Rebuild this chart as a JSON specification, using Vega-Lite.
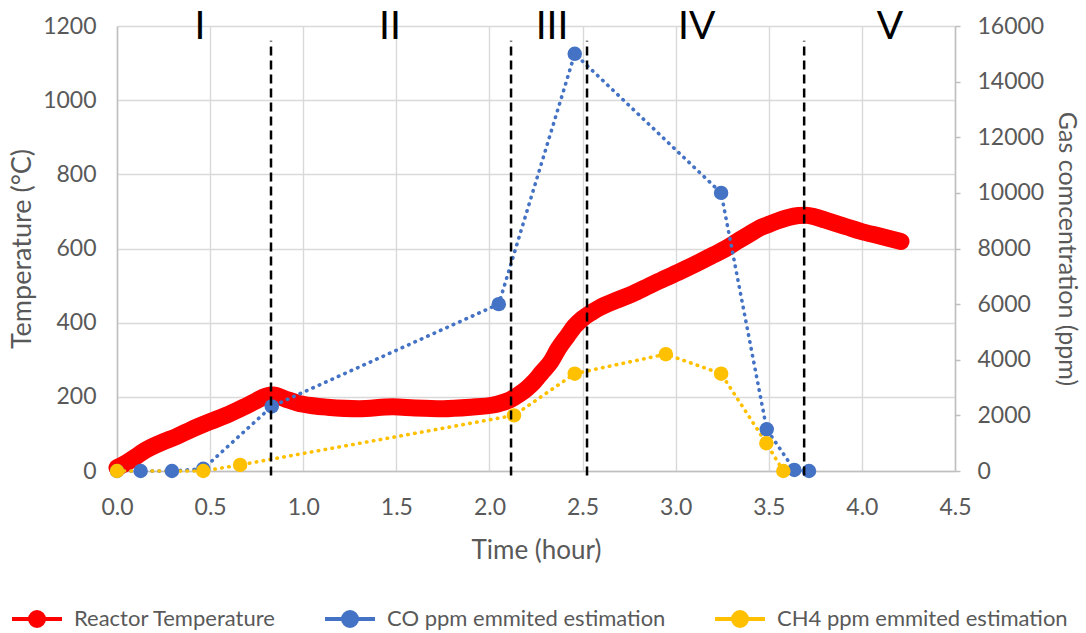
{
  "$schema": "https://vega.github.io/schema/vega-lite/v6.json",
  "width": 838,
  "height": 445,
  "autosize": {"type": "none"},
  "padding": {"left": 117, "top": 26, "right": 131, "bottom": 162},
  "config": {
    "view": {"stroke": null},
    "font": "Lato",
    "axis": {
      "labelFont": "Lato",
      "titleFont": "Lato",
      "labelColor": "#595959",
      "titleColor": "#595959",
      "labelFontSize": 23,
      "titleFontSize": 26,
      "titleFontWeight": "normal",
      "labelFlush": false,
      "labelOverlap": false,
      "gridColor": "#D9D9D9",
      "gridWidth": 1.4,
      "domainColor": "#BFBFBF",
      "domainWidth": 1.5,
      "tickColor": "#BFBFBF",
      "tickWidth": 1.5
    },
    "legend": {
      "labelFont": "Lato",
      "labelFontSize": 22,
      "labelColor": "#595959",
      "labelLimit": 400
    }
  },
  "datasets": {
    "temperature": [
      {"hour": 0.00, "temperature": 9, "series": "Reactor Temperature"},
      {"hour": 0.05, "temperature": 22, "series": "Reactor Temperature"},
      {"hour": 0.10, "temperature": 38, "series": "Reactor Temperature"},
      {"hour": 0.14, "temperature": 52, "series": "Reactor Temperature"},
      {"hour": 0.20, "temperature": 68, "series": "Reactor Temperature"},
      {"hour": 0.25, "temperature": 79, "series": "Reactor Temperature"},
      {"hour": 0.32, "temperature": 93, "series": "Reactor Temperature"},
      {"hour": 0.40, "temperature": 112, "series": "Reactor Temperature"},
      {"hour": 0.50, "temperature": 133, "series": "Reactor Temperature"},
      {"hour": 0.60, "temperature": 153, "series": "Reactor Temperature"},
      {"hour": 0.68, "temperature": 172, "series": "Reactor Temperature"},
      {"hour": 0.75, "temperature": 190, "series": "Reactor Temperature"},
      {"hour": 0.80, "temperature": 202, "series": "Reactor Temperature"},
      {"hour": 0.84, "temperature": 205, "series": "Reactor Temperature"},
      {"hour": 0.90, "temperature": 195, "series": "Reactor Temperature"},
      {"hour": 0.97, "temperature": 183, "series": "Reactor Temperature"},
      {"hour": 1.05, "temperature": 176, "series": "Reactor Temperature"},
      {"hour": 1.13, "temperature": 172, "series": "Reactor Temperature"},
      {"hour": 1.30, "temperature": 168, "series": "Reactor Temperature"},
      {"hour": 1.48, "temperature": 173, "series": "Reactor Temperature"},
      {"hour": 1.60, "temperature": 170, "series": "Reactor Temperature"},
      {"hour": 1.75, "temperature": 168, "series": "Reactor Temperature"},
      {"hour": 1.90, "temperature": 172, "series": "Reactor Temperature"},
      {"hour": 2.02, "temperature": 178, "series": "Reactor Temperature"},
      {"hour": 2.06, "temperature": 183, "series": "Reactor Temperature"},
      {"hour": 2.11, "temperature": 192, "series": "Reactor Temperature"},
      {"hour": 2.16, "temperature": 207, "series": "Reactor Temperature"},
      {"hour": 2.20, "temperature": 222, "series": "Reactor Temperature"},
      {"hour": 2.24, "temperature": 241, "series": "Reactor Temperature"},
      {"hour": 2.28, "temperature": 265, "series": "Reactor Temperature"},
      {"hour": 2.33, "temperature": 295, "series": "Reactor Temperature"},
      {"hour": 2.37, "temperature": 330, "series": "Reactor Temperature"},
      {"hour": 2.42, "temperature": 365, "series": "Reactor Temperature"},
      {"hour": 2.46, "temperature": 392, "series": "Reactor Temperature"},
      {"hour": 2.50, "temperature": 411, "series": "Reactor Temperature"},
      {"hour": 2.55, "temperature": 428, "series": "Reactor Temperature"},
      {"hour": 2.59, "temperature": 440, "series": "Reactor Temperature"},
      {"hour": 2.68, "temperature": 460, "series": "Reactor Temperature"},
      {"hour": 2.77, "temperature": 478, "series": "Reactor Temperature"},
      {"hour": 2.86, "temperature": 500, "series": "Reactor Temperature"},
      {"hour": 2.95, "temperature": 521, "series": "Reactor Temperature"},
      {"hour": 3.04, "temperature": 542, "series": "Reactor Temperature"},
      {"hour": 3.13, "temperature": 564, "series": "Reactor Temperature"},
      {"hour": 3.20, "temperature": 582, "series": "Reactor Temperature"},
      {"hour": 3.27, "temperature": 600, "series": "Reactor Temperature"},
      {"hour": 3.34, "temperature": 622, "series": "Reactor Temperature"},
      {"hour": 3.40, "temperature": 640, "series": "Reactor Temperature"},
      {"hour": 3.45, "temperature": 655, "series": "Reactor Temperature"},
      {"hour": 3.49, "temperature": 663, "series": "Reactor Temperature"},
      {"hour": 3.55, "temperature": 675, "series": "Reactor Temperature"},
      {"hour": 3.60, "temperature": 683, "series": "Reactor Temperature"},
      {"hour": 3.66, "temperature": 689, "series": "Reactor Temperature"},
      {"hour": 3.70, "temperature": 690, "series": "Reactor Temperature"},
      {"hour": 3.75, "temperature": 685, "series": "Reactor Temperature"},
      {"hour": 3.80, "temperature": 677, "series": "Reactor Temperature"},
      {"hour": 3.85, "temperature": 669, "series": "Reactor Temperature"},
      {"hour": 3.92, "temperature": 658, "series": "Reactor Temperature"},
      {"hour": 3.99, "temperature": 647, "series": "Reactor Temperature"},
      {"hour": 4.10, "temperature": 633, "series": "Reactor Temperature"},
      {"hour": 4.21, "temperature": 619, "series": "Reactor Temperature"}
    ],
    "gas": [
      {"hour": 0.000, "ppm": 0, "series": "CO ppm emmited estimation"},
      {"hour": 0.127, "ppm": 0, "series": "CO ppm emmited estimation"},
      {"hour": 0.295, "ppm": 0, "series": "CO ppm emmited estimation"},
      {"hour": 0.463, "ppm": 80, "series": "CO ppm emmited estimation"},
      {"hour": 0.831, "ppm": 2320, "series": "CO ppm emmited estimation"},
      {"hour": 2.050, "ppm": 6000, "series": "CO ppm emmited estimation"},
      {"hour": 2.458, "ppm": 15000, "series": "CO ppm emmited estimation"},
      {"hour": 3.244, "ppm": 10000, "series": "CO ppm emmited estimation"},
      {"hour": 3.489, "ppm": 1500, "series": "CO ppm emmited estimation"},
      {"hour": 3.637, "ppm": 40, "series": "CO ppm emmited estimation"},
      {"hour": 3.716, "ppm": 0, "series": "CO ppm emmited estimation"},
      {"hour": 0.000, "ppm": 0, "series": "CH4 ppm emmited estimation"},
      {"hour": 0.463, "ppm": 0, "series": "CH4 ppm emmited estimation"},
      {"hour": 0.661, "ppm": 220, "series": "CH4 ppm emmited estimation"},
      {"hour": 2.132, "ppm": 2000, "series": "CH4 ppm emmited estimation"},
      {"hour": 2.458, "ppm": 3500, "series": "CH4 ppm emmited estimation"},
      {"hour": 2.947, "ppm": 4200, "series": "CH4 ppm emmited estimation"},
      {"hour": 3.244, "ppm": 3500, "series": "CH4 ppm emmited estimation"},
      {"hour": 3.487, "ppm": 1000, "series": "CH4 ppm emmited estimation"},
      {"hour": 3.578, "ppm": 0, "series": "CH4 ppm emmited estimation"}
    ],
    "boundaries": [
      {"hour": 0.827},
      {"hour": 2.116},
      {"hour": 2.524},
      {"hour": 3.690}
    ],
    "phases": [
      {"hour": 0.446, "phase": "I"},
      {"hour": 1.466, "phase": "II"},
      {"hour": 2.336, "phase": "III"},
      {"hour": 3.113, "phase": "IV"},
      {"hour": 4.151, "phase": "V"}
    ]
  },
  "layer": [
    {
      "data": {"name": "temperature"},
      "mark": {"type": "line", "strokeWidth": 17, "strokeCap": "round", "strokeJoin": "round", "interpolate": "monotone"},
      "encoding": {
        "x": {
          "field": "hour", "type": "quantitative",
          "scale": {"domain": [0, 4.5], "nice": false, "zero": false},
          "axis": {"title": "Time (hour)", "values": [0, 0.5, 1, 1.5, 2, 2.5, 3, 3.5, 4, 4.5], "format": ".1f", "ticks": false, "grid": true, "labelPadding": 25, "titlePadding": 18}
        },
        "y": {
          "field": "temperature", "type": "quantitative",
          "scale": {"domain": [0, 1200], "nice": false},
          "axis": {"orient": "left", "title": "Temperature (\u00b0C)", "titleFontSize": 27, "values": [0, 200, 400, 600, 800, 1000, 1200], "format": "d", "ticks": false, "grid": true, "labelPadding": 21, "titlePadding": 6}
        },
        "color": {
          "field": "series", "type": "nominal",
          "scale": {
            "domain": ["Reactor Temperature", "CO ppm emmited estimation", "CH4 ppm emmited estimation"],
            "range": ["#FF0000", "#4472C4", "#FFC000"]
          },
          "legend": {
            "title": null,
            "orient": "none",
            "direction": "horizontal",
            "legendX": -107,
            "legendY": 566,
            "symbolType": "M-1,0H1M-0.28,0A0.28,0.28 0 1,0 0.28,0A0.28,0.28 0 1,0 -0.28,0Z",
            "symbolSize": 2500,
            "symbolStrokeWidth": 4,
            "labelOffset": 10,
            "columnPadding": 41,
            "encode": {
              "symbols": {
                "update": {
                  "stroke": {"scale": "color", "field": "value"},
                  "fill": {"scale": "color", "field": "value"},
                  "strokeWidth": {"value": 4},
                  "opacity": {"value": 1}
                }
              }
            }
          }
        }
      }
    },
    {
      "data": {"name": "gas"},
      "encoding": {
        "x": {"field": "hour", "type": "quantitative"},
        "y": {
          "field": "ppm", "type": "quantitative",
          "scale": {"domain": [0, 16000], "nice": false},
          "axis": {"orient": "right", "title": "Gas comcentration (ppm)", "titleFontSize": 25, "values": [0, 2000, 4000, 6000, 8000, 10000, 12000, 14000, 16000], "format": "d", "grid": false, "ticks": true, "tickSize": 5, "labelPadding": 17, "titlePadding": 10}
        },
        "color": {"field": "series", "type": "nominal"}
      },
      "layer": [
        {"mark": {"type": "line", "strokeWidth": 3.6, "strokeDash": [0.5, 6.5], "strokeCap": "round"}},
        {"mark": {"type": "point", "filled": true, "size": 210, "opacity": 1}}
      ]
    },
    {
      "layer": [
        {
          "data": {"name": "boundaries"},
          "mark": {"type": "rule", "strokeDash": [9, 5], "strokeWidth": 2.5, "color": "#000000"},
          "encoding": {
            "x": {"field": "hour", "type": "quantitative"},
            "y": {"datum": -12, "scale": {"domain": [0, 1200], "nice": false}, "axis": null},
            "y2": {"datum": 1160}
          }
        },
        {
          "data": {"name": "phases"},
          "mark": {"type": "text", "font": "Lato", "fontSize": 39, "color": "#000000", "align": "center", "baseline": "alphabetic"},
          "encoding": {
            "x": {"field": "hour", "type": "quantitative"},
            "y": {"datum": 1165},
            "text": {"field": "phase"}
          }
        }
      ]
    }
  ],
  "resolve": {"scale": {"y": "independent"}}
}
